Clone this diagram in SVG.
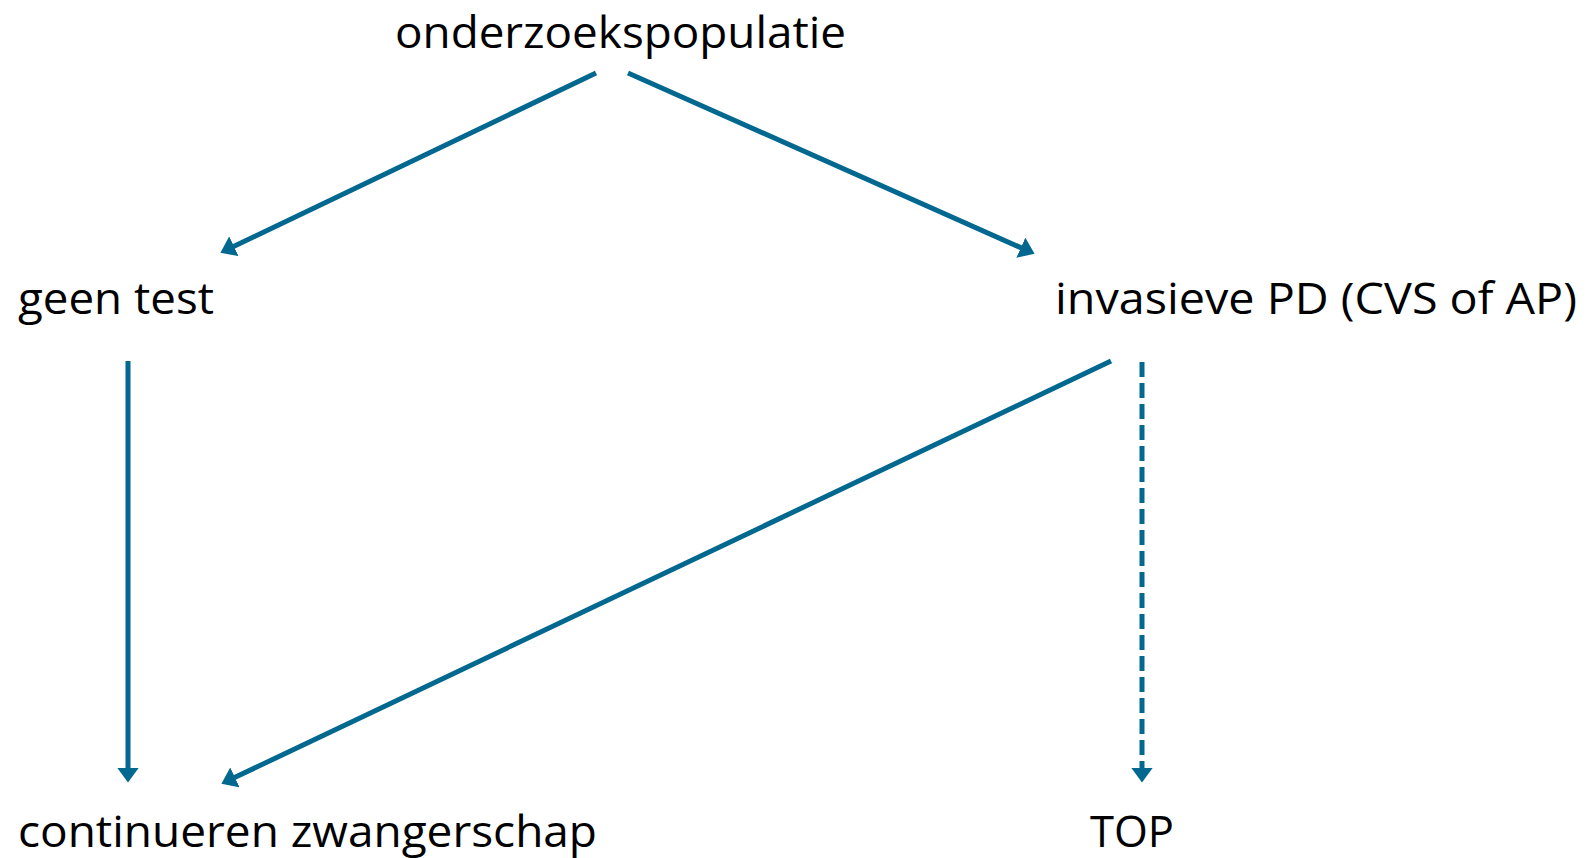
<svg xmlns="http://www.w3.org/2000/svg" width="1595" height="858" viewBox="0 0 1595 858">
  <style>
    .lbl { font-family: "Open Sans", "Noto Sans", sans-serif; font-size: 43px; fill: #000; }
    .edge { stroke: #03688F; stroke-width: 5; fill: none; }
    .dash { stroke-dasharray: 15 6; }
  </style>
  <defs>
    <marker id="arr" viewBox="0 0 15 22" refX="0.5" refY="11" markerWidth="15" markerHeight="22" markerUnits="userSpaceOnUse" orient="auto">
      <path d="M0,0 L15,11 L0,22 Z" fill="#03688F"/>
    </marker>
  </defs>
  <rect width="1595" height="858" fill="#fff"/>
  <g id="connectors">
    <line class="edge" x1="596" y1="73" x2="233.5" y2="246.5" marker-end="url(#arr)"/>
    <line class="edge" x1="628" y1="73" x2="1021.3" y2="247.9" marker-end="url(#arr)"/>
    <line class="edge" x1="128" y1="361" x2="128" y2="768" marker-end="url(#arr)"/>
    <line class="edge" x1="1111" y1="361" x2="234.5" y2="777.6" marker-end="url(#arr)"/>
    <line class="edge dash" x1="1142" y1="362" x2="1142" y2="768" marker-end="url(#arr)"/>
  </g>
  <g id="node-onderzoekspopulatie">
    <text class="lbl" x="395" y="48" textLength="451" lengthAdjust="spacingAndGlyphs">onderzoekspopulatie</text>
  </g>
  <g id="node-geen-test">
    <text class="lbl" x="18" y="314" textLength="196" lengthAdjust="spacingAndGlyphs">geen test</text>
  </g>
  <g id="node-invasieve-pd">
    <text class="lbl" x="1055" y="314" textLength="522" lengthAdjust="spacingAndGlyphs">invasieve PD (CVS of AP)</text>
  </g>
  <g id="node-continueren">
    <text class="lbl" x="18" y="847" textLength="579" lengthAdjust="spacingAndGlyphs">continueren zwangerschap</text>
  </g>
  <g id="node-top">
    <text class="lbl" x="1090" y="847" textLength="84" lengthAdjust="spacingAndGlyphs">TOP</text>
  </g>
</svg>
